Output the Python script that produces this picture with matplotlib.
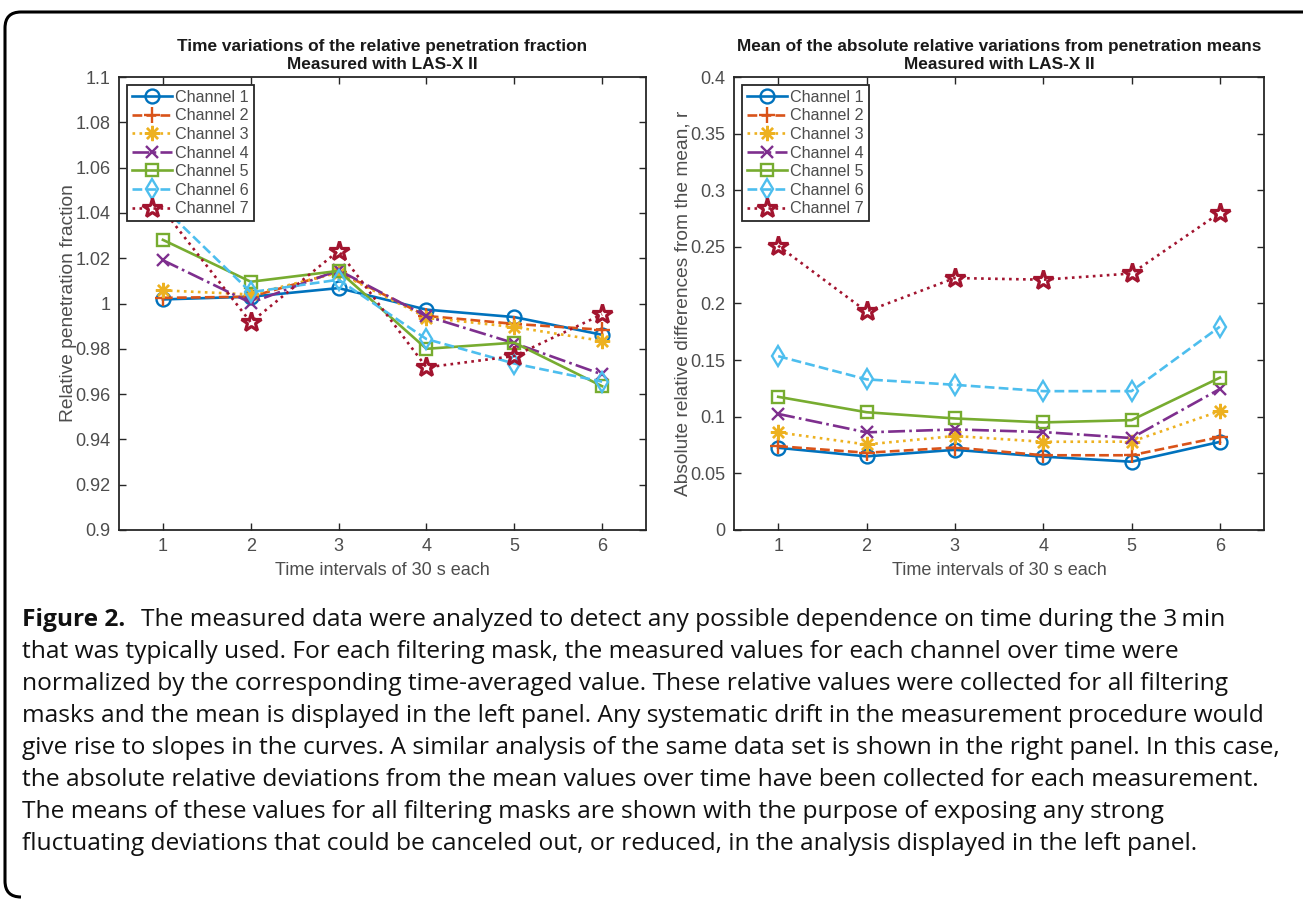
import matplotlib
matplotlib.use("Agg")
import matplotlib.pyplot as plt
from matplotlib.path import Path
from matplotlib.patches import PathPatch

# ---------------- DATA ----------------
intervals = [1, 2, 3, 4, 5, 6]
channels = ["Channel 1", "Channel 2", "Channel 3", "Channel 4",
            "Channel 5", "Channel 6", "Channel 7"]

# left panel: relative penetration fraction
rel_ch1 = [1.0018, 1.0030, 1.0068, 0.9973, 0.9940, 0.9862]
rel_ch2 = [1.0025, 1.0030, 1.0140, 0.9945, 0.9910, 0.9884]
rel_ch3 = [1.0058, 1.0040, 1.0136, 0.9938, 0.9896, 0.9835]
rel_ch4 = [1.0191, 1.0003, 1.0147, 0.9944, 0.9825, 0.9687]
rel_ch5 = [1.0281, 1.0096, 1.0144, 0.9800, 0.9827, 0.9635]
rel_ch6 = [1.0425, 1.0050, 1.0105, 0.9843, 0.9735, 0.9655]
rel_ch7 = [1.0415, 0.9917, 1.0233, 0.9718, 0.9768, 0.9952]

# right panel: mean absolute relative deviation
abs_ch1 = [0.0726, 0.0650, 0.0708, 0.0648, 0.0603, 0.0778]
abs_ch2 = [0.0740, 0.0682, 0.0728, 0.0660, 0.0660, 0.0820]
abs_ch3 = [0.0862, 0.0755, 0.0830, 0.0779, 0.0780, 0.1050]
abs_ch4 = [0.1025, 0.0862, 0.0888, 0.0865, 0.0812, 0.1245]
abs_ch5 = [0.1176, 0.1040, 0.0985, 0.0950, 0.0970, 0.1345]
abs_ch6 = [0.1535, 0.1330, 0.1282, 0.1226, 0.1226, 0.1795]
abs_ch7 = [0.2510, 0.1930, 0.2225, 0.2210, 0.2265, 0.2800]

left_series = [rel_ch1, rel_ch2, rel_ch3, rel_ch4, rel_ch5, rel_ch6, rel_ch7]
right_series = [abs_ch1, abs_ch2, abs_ch3, abs_ch4, abs_ch5, abs_ch6, abs_ch7]

left_yticks = [0.9, 0.92, 0.94, 0.96, 0.98, 1.0, 1.02, 1.04, 1.06, 1.08, 1.1]
left_ylabels = ["0.9", "0.92", "0.94", "0.96", "0.98", "1", "1.02", "1.04", "1.06", "1.08", "1.1"]
right_yticks = [0, 0.05, 0.1, 0.15, 0.2, 0.25, 0.3, 0.35, 0.4]
right_ylabels = ["0", "0.05", "0.1", "0.15", "0.2", "0.25", "0.3", "0.35", "0.4"]

caption_head = "Figure 2."
caption_lines = [
    "The measured data were analyzed to detect any possible dependence on time during the 3\u2009min",
    "that was typically used. For each filtering mask, the measured values for each channel over time were",
    "normalized by the corresponding time-averaged value. These relative values were collected for all filtering",
    "masks and the mean is displayed in the left panel. Any systematic drift in the measurement procedure would",
    "give rise to slopes in the curves. A similar analysis of the same data set is shown in the right panel. In this case,",
    "the absolute relative deviations from the mean values over time have been collected for each measurement.",
    "The means of these values for all filtering masks are shown with the purpose of exposing any strong",
    "fluctuating deviations that could be canceled out, or reduced, in the analysis displayed in the left panel.",
]
# where each caption line starts / ends in the original figure (pixels)
caption_starts = [111, 22, 22, 22, 22, 22, 22, 22]
caption_ends = [1237, 1138, 1228, 1241, 1292, 1292, 1122, 1188]

# ---------------- STYLE (MATLAB look) ----------------
colors = ["#0072BD", "#D95319", "#EDB120", "#7E2F8E", "#77AC30", "#4DBEEE", "#A2142F"]
styles = ["-", "--", ":", "-.", "-", "--", ":"]
markers = ["o", "+", (8, 2, 0), "x", "s", "d", "*"]
msizes = [10, 11, 11, 9, 9, 10, 15]
medges = [1.7, 1.7, 1.7, 1.7, 1.7, 1.7, 2.3]

plt.rcParams["font.family"] = ["Liberation Sans", "DejaVu Sans"]
GRAY = "#262626"
TXT = "#4d4d4d"

W, H = 1303, 911
fig = plt.figure(figsize=(W / 100, H / 100), dpi=100)
fig.patch.set_facecolor("white")


def px_axes(x0, y0, x1, y1):
    return fig.add_axes([x0 / W, 1 - y1 / H, (x1 - x0) / W, (y1 - y0) / H])


def draw_panel(ax, series, yticks, ylabels, ylim, title, ylabel):
    for i, ys in enumerate(series):
        ax.plot(intervals, ys, linestyle=styles[i], color=colors[i],
                marker=markers[i], markersize=msizes[i], markerfacecolor="none",
                markeredgewidth=medges[i], linewidth=1.9, label=channels[i])
    ax.set_xlim(0.5, 6.5)
    ax.set_ylim(*ylim)
    ax.set_xticks(intervals)
    ax.set_yticks(yticks)
    ax.set_yticklabels(ylabels)
    ax.tick_params(direction="in", top=True, right=True, length=5, width=1,
                   colors=GRAY, labelcolor=TXT, labelsize=13, pad=6)
    for s in ax.spines.values():
        s.set_color(GRAY)
        s.set_linewidth(1.3)
    ax.set_title(title, fontsize=12.4, fontweight="bold", color="#1a1a1a",
                 pad=6, linespacing=1.2)
    ax.set_xlabel("Time intervals of 30 s each", fontsize=13, color=TXT, labelpad=5)
    ax.set_ylabel(ylabel, fontsize=13.8, color=TXT, labelpad=-1)
    leg = ax.legend(loc="upper left", fontsize=11.6, frameon=True, fancybox=False,
                    borderaxespad=0.5, handlelength=2.5, handletextpad=0.2,
                    labelspacing=0.22, borderpad=0.3, framealpha=1)
    leg.get_frame().set_edgecolor(GRAY)
    leg.get_frame().set_linewidth(1.3)
    for t in leg.get_texts():
        t.set_color(TXT)


ax1 = px_axes(119, 77, 646, 530)
draw_panel(ax1, left_series, left_yticks, left_ylabels, (0.9, 1.1),
           "Time variations of the relative penetration fraction\nMeasured with LAS-X II",
           "Relative penetration fraction")

ax2 = px_axes(734, 77, 1264, 530)
draw_panel(ax2, right_series, right_yticks, right_ylabels, (0, 0.4),
           "Mean of the absolute relative variations from penetration means\nMeasured with LAS-X II",
           "Absolute relative differences from the mean, r")

# ---------------- CAPTION ----------------
cap_font = ["Open Sans", "DejaVu Sans"]
base = 15.0
renderer = fig.canvas.get_renderer()

# pick one size so that on average the lines are as wide as in the figure
ratios = []
for line, x0, x1 in zip(caption_lines, caption_starts, caption_ends):
    probe = fig.text(0, 0, line, fontsize=base, family=cap_font)
    ratios.append((x1 - x0) / probe.get_window_extent(renderer).width)
    probe.remove()
cap_size = base * sum(ratios) / len(ratios)

y0 = 620
for i, line in enumerate(caption_lines):
    y = 1 - (y0 + i * 32) / H
    x_start = caption_starts[i]
    if i == 0:
        head = fig.text(22 / W, y, caption_head, fontsize=cap_size, fontweight="bold",
                        family=cap_font, va="center", ha="left", color="#111111")
        x_start = head.get_window_extent(renderer).x1 + 16
    fig.text(x_start / W, y, line, fontsize=cap_size, family=cap_font,
             va="center", ha="left", color="#111111")

# ---------------- FRAME (rounded, open to the right) ----------------
r = 16
left, top, bottom = 5, H - 12, H - 897
verts = [(W + 10, top), (left + r, top), (left, top), (left, top - r),
         (left, bottom + r), (left, bottom), (left + r, bottom)]
codes = [Path.MOVETO, Path.LINETO, Path.CURVE3, Path.CURVE3,
         Path.LINETO, Path.CURVE3, Path.CURVE3]
frame = PathPatch(Path(verts, codes), fill=False, edgecolor="black",
                  linewidth=2.2, transform=None)
fig.patches.append(frame)

fig.savefig("out.png", dpi=100)
